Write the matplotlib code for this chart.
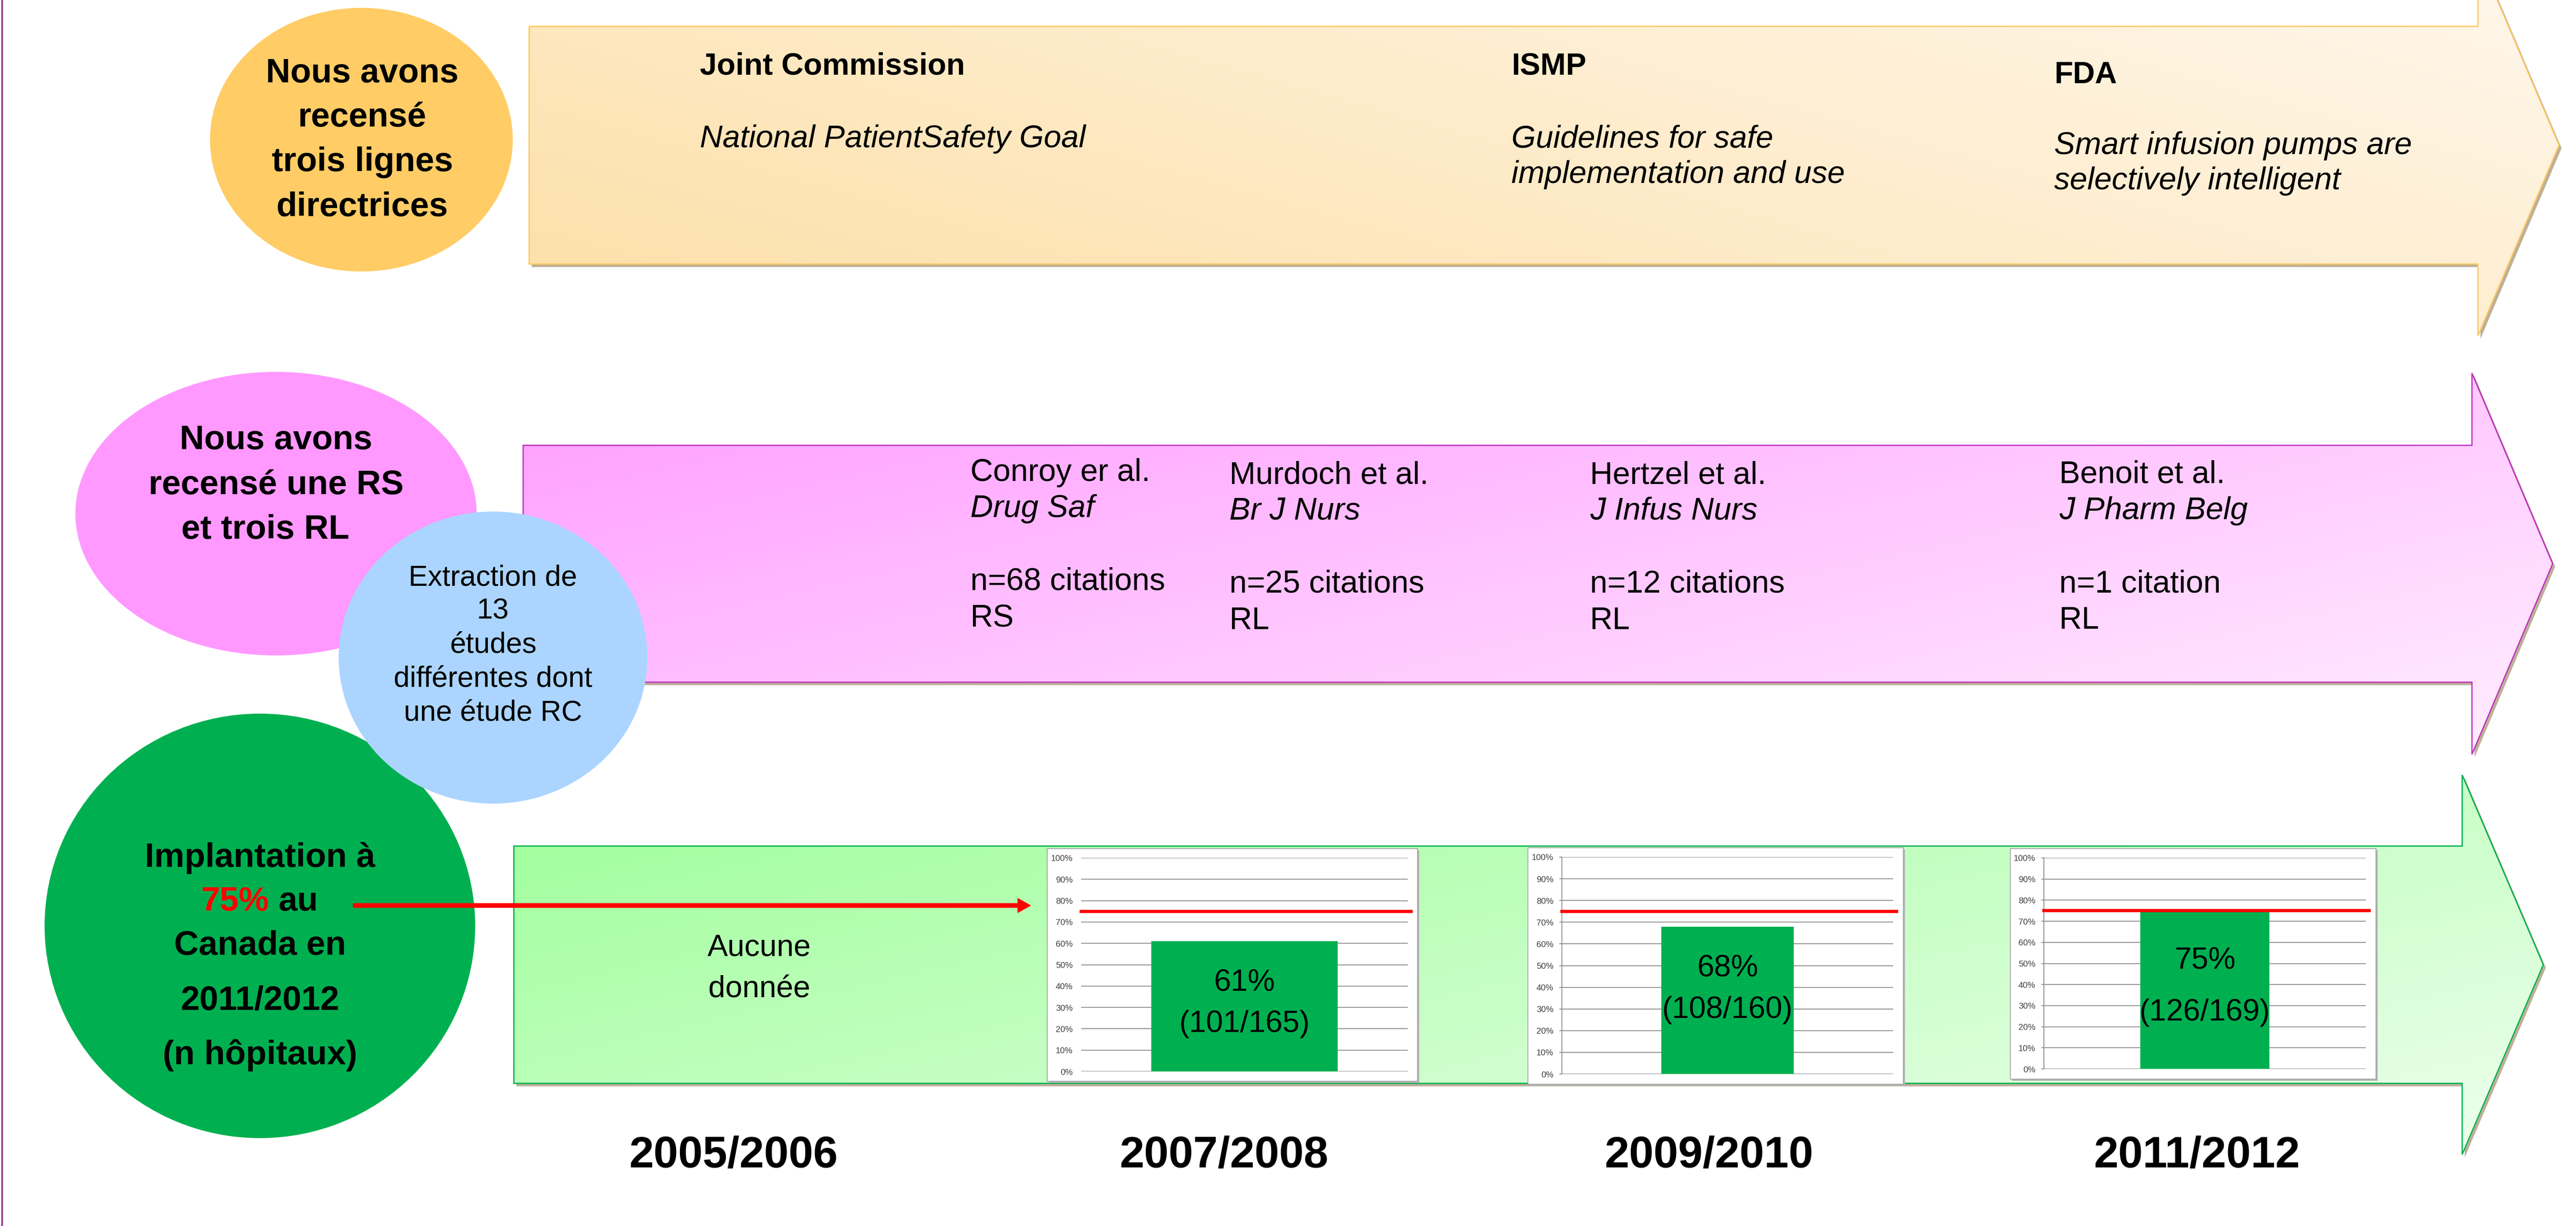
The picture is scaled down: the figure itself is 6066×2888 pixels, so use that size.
"""
Timeline infographic: guidelines, studies and smart pump implementation in Canada.
"""

import numpy as np
import matplotlib
matplotlib.use("Agg")
import matplotlib.pyplot as plt
from matplotlib import font_manager
from matplotlib.colors import to_rgb
from matplotlib.patches import Polygon, Ellipse, Rectangle, FancyArrow

# ---- data ----
periods = ["2005/2006", "2007/2008", "2009/2010", "2011/2012"]

guideline_orgs = ["Joint Commission", "ISMP", "FDA"]
guideline_docs = [
    ["National PatientSafety Goal"],
    ["Guidelines for safe", "implementation and use"],
    ["Smart infusion pumps are", "selectively intelligent"],
]

study_authors = ["Conroy er al.", "Murdoch et al.", "Hertzel et al.", "Benoit et al."]
study_journals = ["Drug Saf", "Br J Nurs", "J Infus Nurs", "J Pharm Belg"]
study_citations = [68, 25, 12, 1]
study_designs = ["RS", "RL", "RL", "RL"]

impl_pct = [61, 68, 75]
impl_yes = [101, 108, 126]
impl_total = [165, 160, 169]
target_pct = 75
pct_ticks = list(range(0, 101, 10))

# ---- canvas in pixel units ----
W, H = 6066, 2888
DPI = 100
PT = 72 / DPI  # pixels -> points

plt.rcParams["font.family"] = ["Liberation Sans", "DejaVu Sans"]
names = {f.name for f in font_manager.fontManager.ttflist}
tick_family = "Liberation Sans Narrow" if "Liberation Sans Narrow" in names else "Liberation Sans"
tick_size = 24 if tick_family == "Liberation Sans Narrow" else 20

fig = plt.figure(figsize=(W / DPI, H / DPI), dpi=DPI)
ax = fig.add_axes([0, 0, 1, 1])
ax.set_xlim(0, W)
ax.set_ylim(H, 0)
ax.axis("off")


def put(x, y, s, size, ha="left", weight="normal", style="normal", color="black", target=None):
    (target or ax).text(x, y, s, fontsize=size * PT, ha=ha, va="baseline", fontweight=weight,
                        fontstyle=style, color=color, zorder=8, transform=ax.transData, clip_on=False)


def arrow_verts(left, top, bottom, neck, tip, half):
    mid = (top + bottom) / 2
    return np.array([[left, top], [neck, top], [neck, mid - half], [tip, mid],
                     [neck, mid + half], [neck, bottom], [left, bottom]], dtype=float)


def gradient_arrow(verts, c0, c1, wx, wy, edge, z=1):
    ax.add_patch(Polygon(verts + [6, 7], closed=True, fc="#bdb098", ec="none", zorder=z - 0.2))
    shape = Polygon(verts, closed=True, fc="none", ec=edge, lw=3 * PT, zorder=z + 0.1)
    ax.add_patch(shape)
    x0, y0 = verts.min(axis=0)
    x1, y1 = verts.max(axis=0)
    gx, gy = np.meshgrid(np.linspace(0, 1, 400), np.linspace(0, 1, 200))
    t = wx * gx + wy * gy
    t = (t - t.min()) / (t.max() - t.min())
    a, b = np.array(to_rgb(c0)), np.array(to_rgb(c1))
    img = a + t[..., None] * (b - a)
    im = ax.imshow(img, extent=(x0, x1, y1, y0), origin="upper", aspect="auto",
                   zorder=z, interpolation="bilinear")
    im.set_clip_path(shape)


# left border line
ax.plot([5, 5], [0, H], color="#8e3c8e", lw=4 * PT, zorder=9)

# three timeline arrows
gradient_arrow(arrow_verts(1246, 62, 622, 5835, 6026, 449), "#fddfa6", "#fff8ee", 0.6, -0.4, "#fcc860")
gradient_arrow(arrow_verts(1232, 1049, 1607, 5821, 6011, 449), "#ff9cff", "#ffeeff", 0.55, 0.45, "#c030c0")
gradient_arrow(arrow_verts(1210, 1993, 2552, 5798, 5989, 447), "#9cff98", "#eefeee", 0.55, 0.45, "#00b050")

# bubbles
ax.add_patch(Ellipse((851, 329), 713, 621, fc="#ffcc66", ec="none", zorder=4))
ax.add_patch(Ellipse((650, 1210), 945, 668, fc="#ff99ff", ec="none", zorder=4))
ax.add_patch(Ellipse((612, 2181), 1014, 1000, fc="#00b050", ec="none", zorder=4))
ax.add_patch(Ellipse((1161, 1549), 727, 688, fc="#abd5ff", ec="none", zorder=5))

for s, y in zip(["Nous avons", "recensé", "trois lignes", "directrices"], [194, 298, 403, 509]):
    put(853, y, s, 80, ha="center", weight="bold")
for s, x, y in zip(["Nous avons", "recensé une RS", "et trois RL"], [650, 650, 625], [1058, 1164, 1269]):
    put(x, y, s, 80, ha="center", weight="bold")
for s, y in zip(["Extraction de", "13", "études", "différentes dont", "une étude RC"],
                [1379, 1457, 1537, 1618, 1697]):
    put(1161, y, s, 68, ha="center")
put(612, 2042, "Implantation à", 80, ha="center", weight="bold")
put(634, 2145, "75%", 80, ha="right", weight="bold", color="#ff0000")
put(656, 2145, "au", 80, weight="bold")
put(612, 2249, "Canada en", 80, ha="center", weight="bold")
put(612, 2378, "2011/2012", 80, ha="center", weight="bold")
put(612, 2507, "(n hôpitaux)", 80, ha="center", weight="bold")

ax.add_patch(FancyArrow(831, 2133, 2428 - 831, 0, width=11, head_width=36, head_length=32,
                        length_includes_head=True, color="#ff0000", lw=0, zorder=9))

# guidelines row
org_x = [1648, 3559, 4837]
org_base = [176, 176, 196]
doc_base = [[347], [348, 431], [363, 446]]
for org, docs, x, yb, dys in zip(guideline_orgs, guideline_docs, org_x, org_base, doc_base):
    put(x, yb, org, 72, weight="bold")
    for line, y in zip(docs, dys):
        put(x, y, line, 74, style="italic")

# studies row
study_x = [2285, 2895, 3744, 4849]
study_dy = [-6, 0, 0, -1]
for author, journal, n, design, x, dy in zip(study_authors, study_journals, study_citations,
                                            study_designs, study_x, study_dy):
    put(x, 1139 + dy, author, 74)
    put(x, 1224 + dy, journal, 74, style="italic")
    put(x, 1396 + dy, f"n={n} citation" + ("s" if n > 1 else ""), 74)
    put(x, 1482 + dy, design, 74)

# implementation row
put(1788, 2252, "Aucune", 72, ha="center")
put(1788, 2350, "donnée", 72, ha="center")

for s, x in zip(periods, [1727, 2882, 4024, 5173]):
    put(x, 2749, s, 104, ha="center", weight="bold")

chart_boxes = [(2466, 1999, 3338, 2547), (3598, 1997, 4482, 2554), (4734, 1999, 5595, 2542)]
plot_areas = [(2546, 2021, 3315, 2524), (3678, 2019, 4458, 2530), (4813, 2021, 5571, 2518)]
bar_widths = [0.57, 0.40, 0.40]
label_base = [(2333, 2431), (2300, 2398), (2282, 2404)]

for i, pct in enumerate(impl_pct):
    bx0, by0, bx1, by1 = chart_boxes[i]
    ax.add_patch(Rectangle((bx0 + 4, by0 + 4), bx1 - bx0, by1 - by0, fc="#b5b5b5", ec="none", zorder=6))
    ax.add_patch(Rectangle((bx0, by0), bx1 - bx0, by1 - by0, fc="white", ec="#a6a6a6",
                           lw=2 * PT, zorder=6.1))

    px0, py0, px1, py1 = plot_areas[i]
    iax = fig.add_axes([px0 / W, 1 - py1 / H, (px1 - px0) / W, (py1 - py0) / H])
    iax.patch.set_alpha(0)
    iax.set_xlim(-0.5, 0.5)
    iax.set_ylim(0, 100)
    iax.set_xticks([])
    iax.set_yticks(pct_ticks)
    iax.set_yticklabels([f"{v}%" for v in pct_ticks], family=tick_family)
    iax.grid(axis="y", color="#8c8c8c", lw=2 * PT)
    iax.set_axisbelow(True)
    for side in ["top", "right", "bottom"]:
        iax.spines[side].set_visible(False)
    iax.spines["left"].set_visible(i > 0)
    iax.spines["left"].set_color("#8c8c8c")
    iax.spines["left"].set_linewidth(2 * PT)
    iax.tick_params(axis="y", length=(6 if i else 0) * PT, width=2 * PT, color="#8c8c8c",
                    labelsize=tick_size * PT, labelcolor="#404040", pad=(14 if i else 20) * PT)

    iax.bar(0, pct, width=bar_widths[i], color="#00b050", zorder=2)
    iax.axhline(target_pct, xmin=0, xmax=1.01, color="#ff0000", lw=7.5 * PT, zorder=3, clip_on=False)

    cx = (px0 + px1) / 2
    put(cx, label_base[i][0], f"{pct}%", 72, ha="center", target=iax)
    put(cx, label_base[i][1], f"({impl_yes[i]}/{impl_total[i]})", 72, ha="center", target=iax)

fig.savefig("out.png", dpi=DPI, facecolor="white")
